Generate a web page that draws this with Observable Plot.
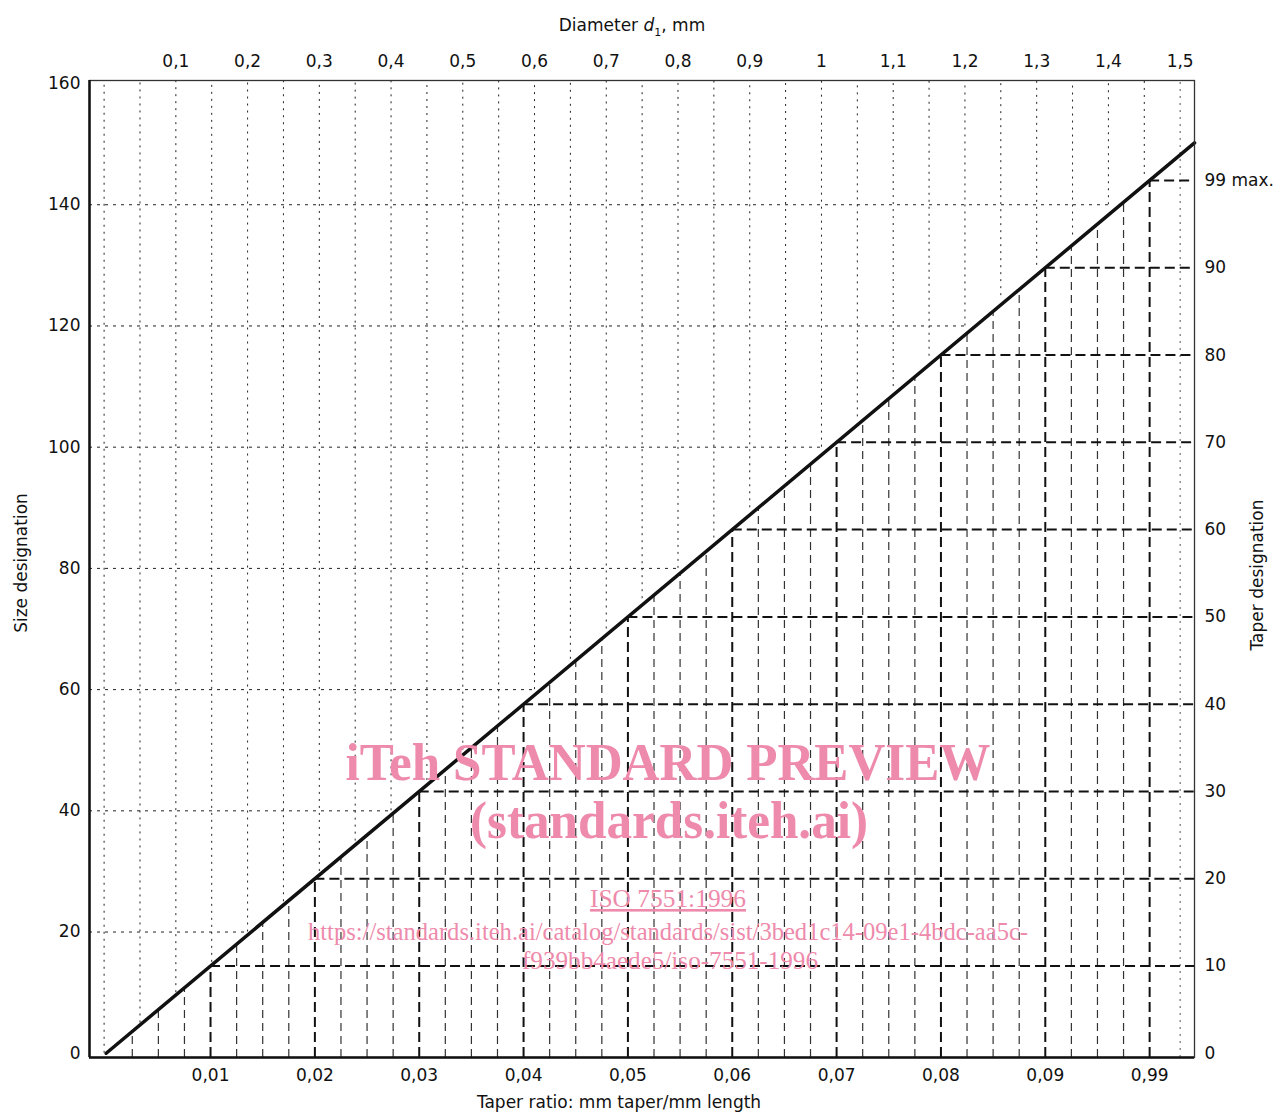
<!DOCTYPE html>
<html><head><meta charset="utf-8">
<script src="https://cdn.jsdelivr.net/npm/d3@7"></script>
<script src="https://cdn.jsdelivr.net/npm/@observablehq/plot@0.6"></script>
<style>body{margin:0;background:#fff} #chart svg{display:block}</style>
</head><body><div id="chart"></div>
<script>
// ---- data ----
const sizeTicks = [0, 20, 40, 60, 80, 100, 120, 140, 160];
const gridSizes = [20, 40, 60, 80, 100, 120, 140];
const taperRatios = [0.01, 0.02, 0.03, 0.04, 0.05, 0.06, 0.07, 0.08, 0.09, 0.1];
const taperRatioLabels = ["0,01", "0,02", "0,03", "0,04", "0,05", "0,06", "0,07", "0,08", "0,09", "0,99"];
const lightTaperRatios = [0.0025, 0.005, 0.0075, 0.0125, 0.015, 0.0175, 0.0225, 0.025, 0.0275,
  0.0325, 0.035, 0.0375, 0.0425, 0.045, 0.0475, 0.0525, 0.055, 0.0575, 0.0625, 0.065, 0.0675,
  0.0725, 0.075, 0.0775, 0.0825, 0.085, 0.0875, 0.0925, 0.095, 0.0975];
const taperDesignations = [10, 20, 30, 40, 50, 60, 70, 80, 90, 100];
const rightTicks = [0, 10, 20, 30, 40, 50, 60, 70, 80, 90, 100];
const rightLabels = ["0", "10", "20", "30", "40", "50", "60", "70", "80", "90", "99 max."];
const diameterGrid = [0, 0.05, 0.1, 0.15, 0.2, 0.25, 0.3, 0.35, 0.4, 0.45, 0.5, 0.55, 0.6, 0.65, 0.7,
  0.75, 0.8, 0.85, 0.9, 0.95, 1.0, 1.05, 1.1, 1.15, 1.2, 1.25, 1.3, 1.35, 1.4, 1.45];
const diameterEdge = [1.5];
const diameterTicks = [0.1, 0.2, 0.3, 0.4, 0.5, 0.6, 0.7, 0.8, 0.9, 1.0, 1.1, 1.2, 1.3, 1.4, 1.5];
const diameterLabels = ["0,1", "0,2", "0,3", "0,4", "0,5", "0,6", "0,7", "0,8", "0,9", "1", "1,1", "1,2", "1,3", "1,4", "1,5"];
const curveTaper = [0, 0.1043];
const curveSize = [0, 150.2];

// ---- relations between the scales ----
const SIZE_PER_TAPER = 1440;          // size designation per unit taper ratio
const SIZE_PER_DESIGNATION = 1.44;    // size per taper designation unit
const diaToTaper = d => 0.06875 * d - 0.0002;
const X_DOMAIN = [-0.0016, 0.1043];
const Y_DOMAIN = [-0.7, 160.5];

const curve = curveTaper.map((t, i) => ({taper: t, size: curveSize[i]}));
const ink = "#111";

const plot = Plot.plot({
  width: 1276, height: 1114,
  marginLeft: 89, marginRight: 82, marginTop: 80, marginBottom: 57,
  style: {fontFamily: "DejaVu Sans", fontSize: "17px", color: ink, background: "#fff"},
  x: {domain: X_DOMAIN, axis: null},
  y: {domain: Y_DOMAIN, axis: null},
  marks: [
    // dotted diameter grid (top down to the curve)
    Plot.ruleX(diameterGrid, {x: diaToTaper, y1: d => d * 100, y2: Y_DOMAIN[1], stroke: "#222", strokeWidth: 1, strokeDasharray: "2,5"}),
    Plot.ruleX(diameterEdge, {x: diaToTaper, y1: Y_DOMAIN[0], y2: Y_DOMAIN[1], stroke: "#555", strokeWidth: 1, strokeDasharray: "2,5"}),
    // dotted size grid (left over to the curve)
    Plot.ruleY(gridSizes, {y: s => s, x1: X_DOMAIN[0], x2: s => diaToTaper(s / 100), stroke: "#222", strokeWidth: 1, strokeDasharray: "3,5"}),
    // light dashed taper grid
    Plot.ruleX(lightTaperRatios, {x: r => r, y1: Y_DOMAIN[0], y2: r => r * SIZE_PER_TAPER, stroke: "#333", strokeWidth: 1.2, strokeDasharray: "8,5"}),
    // bold dashed taper ratios
    Plot.ruleX(taperRatios, {x: r => r, y1: Y_DOMAIN[0], y2: r => r * SIZE_PER_TAPER, stroke: ink, strokeWidth: 2, strokeDasharray: "10,5"}),
    // bold dashed taper designations
    Plot.ruleY(taperDesignations, {y: t => t * SIZE_PER_DESIGNATION, x1: t => t / 1000, x2: X_DOMAIN[1], stroke: ink, strokeWidth: 2, strokeDasharray: "10,5"}),
    // the relation line
    Plot.line(curve, {x: "taper", y: "size", stroke: ink, strokeWidth: 3.5}),
    // frame
    Plot.frame({stroke: "#333", strokeWidth: 1.3}),
    Plot.ruleX([X_DOMAIN[0]], {stroke: ink, strokeWidth: 2.5}),
    Plot.ruleY([Y_DOMAIN[0]], {stroke: ink, strokeWidth: 2.5}),
    // axes
    Plot.axisY(sizeTicks, {anchor: "left", tickSize: 0, tickPadding: 9, fontSize: 17, label: null}),
    Plot.axisX(taperRatios, {anchor: "bottom", tickSize: 0, tickPadding: 11, fontSize: 17, label: null,
      tickFormat: d => taperRatioLabels[taperRatios.indexOf(d)]}),
    Plot.text(diameterTicks, {x: diaToTaper, text: (d, i) => diameterLabels[i], frameAnchor: "top", dy: -26, fontSize: 17}),
    Plot.text(rightTicks, {y: t => t * SIZE_PER_DESIGNATION, text: (d, i) => rightLabels[i], frameAnchor: "right", dx: 10, textAnchor: "start", fontSize: 17}),
    // titles
    Plot.text(["Size designation"], {text: d => d, frameAnchor: "left", dx: -68, dy: -6, rotate: -90, textAnchor: "middle", fontSize: 17}),
    Plot.text(["Taper designation"], {text: d => d, frameAnchor: "right", dx: 63, dy: 6, rotate: -90, textAnchor: "middle", fontSize: 17}),
    Plot.text(["Diameter d1, mm"], {text: d => d, frameAnchor: "top", dy: -62, dx: -10, fontSize: 17}),
    Plot.text(["Taper ratio: mm taper/mm length"], {text: d => d, frameAnchor: "bottom", dy: 50, dx: -23, fontSize: 17})
  ]
});
document.getElementById("chart").appendChild(plot);

// italic d with subscript 1 in the top title
const svg = d3.select(plot);
svg.selectAll("text").each(function() {
  if (this.textContent === "Diameter d1, mm") {
    const t = d3.select(this);
    t.text(null);
    t.append("tspan").text("Diameter ");
    t.append("tspan").attr("font-style", "italic").text("d");
    t.append("tspan").attr("font-size", 11).attr("dy", 5).text("1");
    t.append("tspan").attr("dy", -5).text(", mm");
  }
});

// watermark
const wm = svg.append("g").attr("fill", "#ee8aab").attr("font-family", "Liberation Serif").attr("text-anchor", "middle");
const wmLines = [
  {text: "iTeh STANDARD PREVIEW", x: 668, y: 780, size: 52, weight: "bold", len: 645},
  {text: "(standards.iteh.ai)", x: 669, y: 838, size: 52, weight: "bold", len: 398},
  {text: "ISO 7551:1996", x: 668, y: 907, size: 26, weight: "normal", len: 156, underline: true},
  {text: "https://standards.iteh.ai/catalog/standards/sist/3bed1c14-09e1-4bdc-aa5c-", x: 668, y: 940, size: 26, weight: "normal", len: 720},
  {text: "f939bb4aede5/iso-7551-1996", x: 670, y: 969, size: 26, weight: "normal", len: 296}
];
for (const l of wmLines) {
  wm.append("text").attr("x", l.x).attr("y", l.y).attr("font-size", l.size).attr("font-weight", l.weight)
    .attr("textLength", l.len).attr("lengthAdjust", "spacingAndGlyphs")
    .attr("text-decoration", l.underline ? "underline" : null).text(l.text);
}
</script>
</body></html>
